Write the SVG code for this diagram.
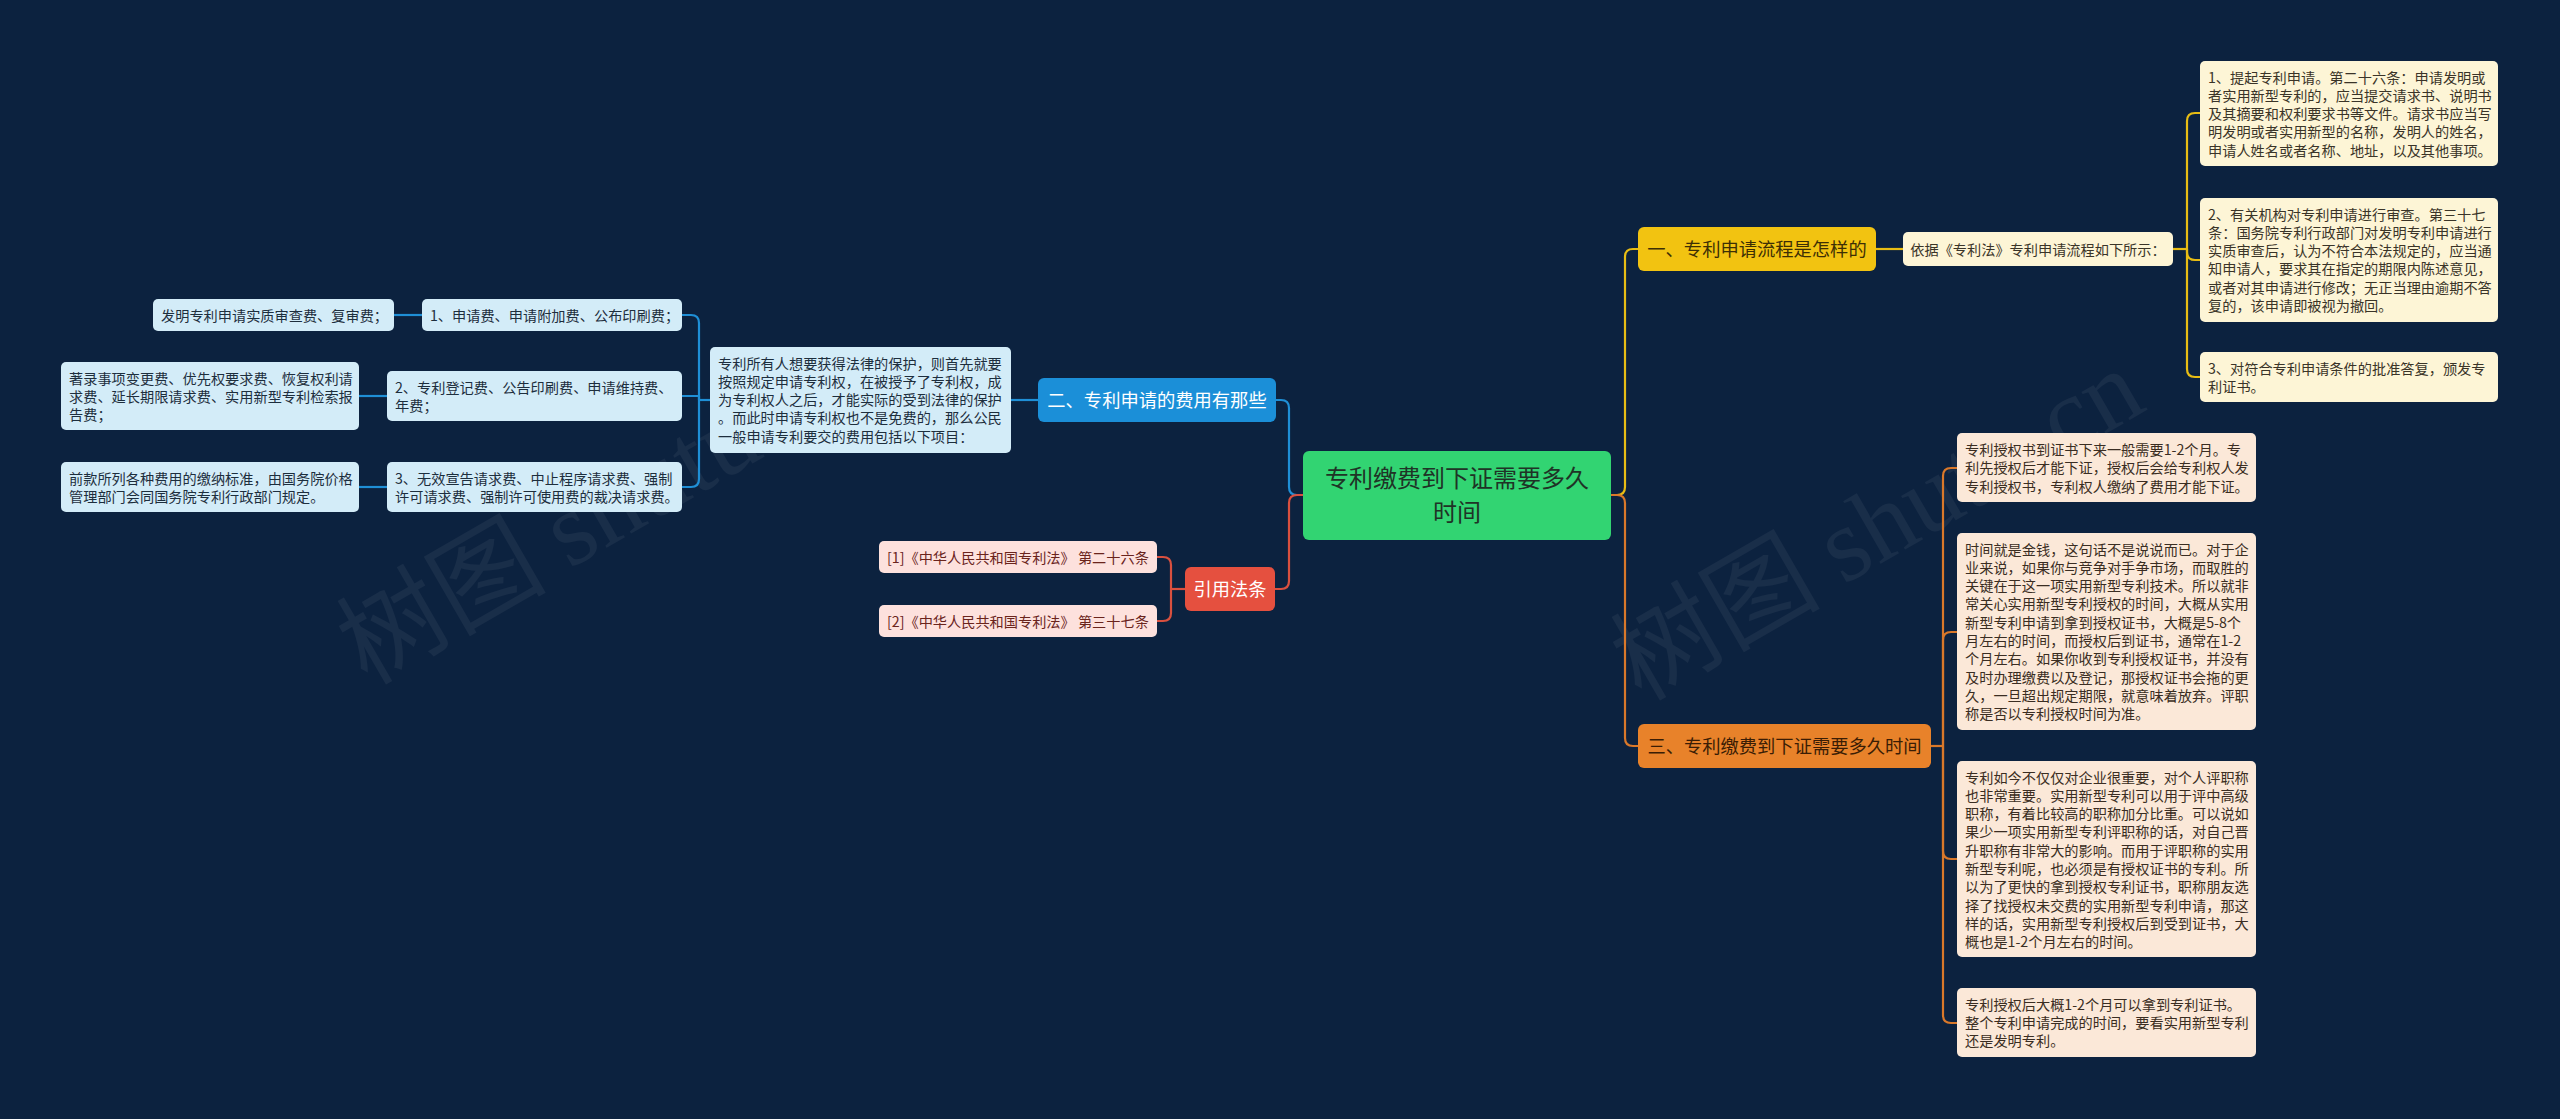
<svg xmlns="http://www.w3.org/2000/svg" width="2560" height="1119" viewBox="0 0 2560 1119">
<defs>
<style>
text{font-family:"Noto Sans CJK SC","Noto Sans",sans-serif;}
.s{font-size:14.2px;}
.l1{font-size:18.3px;}
.root{font-size:24px;fill:#1f3326;}
.cy{fill:#fdf5d6;}
.co{fill:#fbe8d8;}
.cb{fill:#d3ecf8;}
.cr{fill:#fde1dd;}
.ty{fill:#3a3428;}
.to{fill:#3a2d22;}
.tb{fill:#1d2e3d;}
.tr{fill:#6a241c;}
.ln{fill:none;stroke-width:2.2;stroke-linejoin:round;}
.ly{stroke:#e8bd14;}
.lo{stroke:#d9782a;}
.lb{stroke:#1f8fd6;}
.lr{stroke:#d9503f;}
.wm{fill:#ffffff;opacity:0.05;font-size:105px;}
</style>
</defs>
<rect x="0" y="0" width="2560" height="1119" fill="#0c223f"/>

<g id="watermarks">
<text class="wm" x="367" y="686" transform="rotate(-30 367 686)">树图 <tspan font-family="Liberation Serif, serif">shutu.cn</tspan></text>
<text class="wm" x="1641" y="702" transform="rotate(-30 1641 702)">树图 <tspan font-family="Liberation Serif, serif">shutu.cn</tspan></text>
</g>

<g id="connectors">
<!-- yellow branch -->
<path class="ln ly" d="M1611 495 H1617 Q1625 495 1625 487 V257 Q1625 249 1633 249 H1638"/>
<path class="ln ly" d="M1876 249 H1903"/>
<path class="ln ly" d="M2173 249 H2187"/>
<path class="ln ly" d="M2187 249 V121 Q2187 113 2195 113 H2200"/>
<path class="ln ly" d="M2187 249 V252 Q2187 260 2195 260 H2200"/>
<path class="ln ly" d="M2187 249 V369 Q2187 377 2195 377 H2200"/>
<!-- orange branch -->
<path class="ln lo" d="M1611 495 H1617 Q1625 495 1625 503 V738 Q1625 746 1633 746 H1638"/>
<path class="ln lo" d="M1931 746 H1943"/>
<path class="ln lo" d="M1943 746 V476 Q1943 468 1951 468 H1957"/>
<path class="ln lo" d="M1943 746 V640 Q1943 632 1951 632 H1957"/>
<path class="ln lo" d="M1943 746 V851 Q1943 859 1951 859 H1957"/>
<path class="ln lo" d="M1943 746 V1015 Q1943 1023 1951 1023 H1957"/>
<!-- blue branch -->
<path class="ln lb" d="M1303 495 H1297 Q1289 495 1289 487 V408 Q1289 400 1281 400 H1276"/>
<path class="ln lb" d="M1038 400 H1011"/>
<path class="ln lb" d="M710 400 H699"/>
<path class="ln lb" d="M699 400 V323 Q699 315 691 315 H682"/>
<path class="ln lb" d="M699 400 V396 H682"/>
<path class="ln lb" d="M699 400 V479 Q699 487 691 487 H682"/>
<path class="ln lb" d="M394 315 H422"/>
<path class="ln lb" d="M359 396 H387"/>
<path class="ln lb" d="M359 487 H387"/>
<!-- red branch -->
<path class="ln lr" d="M1303 495 H1297 Q1289 495 1289 503 V581 Q1289 589 1281 589 H1275"/>
<path class="ln lr" d="M1185 589 H1171"/>
<path class="ln lr" d="M1171 589 V565 Q1171 557 1163 557 H1157"/>
<path class="ln lr" d="M1171 589 V613 Q1171 621 1163 621 H1157"/>
</g>

<g id="root">
<rect x="1303" y="451" width="308" height="89" rx="6" fill="#32d472"/>
<text class="root" x="1457" y="487" text-anchor="middle">专利缴费到下证需要多久</text>
<text class="root" x="1457" y="521" text-anchor="middle">时间</text>
</g>

<g id="n-yi">
<rect x="1638" y="227" width="238" height="44" rx="6" fill="#f2c311"/>
<text class="l1" x="1757" y="256" text-anchor="middle" fill="#3d2f05">一、专利申请流程是怎样的</text>
</g>
<g id="n-yiju">
<rect class="cy" x="1903" y="232" width="270" height="34" rx="5"/>
<text class="s ty" x="2038" y="254.5" text-anchor="middle">依据《专利法》专利申请流程如下所示：</text>
</g>
<g id="n-y1">
<rect class="cy" x="2200" y="61" width="298" height="105" rx="5"/>
<text class="s ty"><tspan x="2208" y="82.5">1、提起专利申请。第二十六条：申请发明或</tspan><tspan x="2208" y="100.8">者实用新型专利的，应当提交请求书、说明书</tspan><tspan x="2208" y="119.1">及其摘要和权利要求书等文件。请求书应当写</tspan><tspan x="2208" y="137.4">明发明或者实用新型的名称，发明人的姓名，</tspan><tspan x="2208" y="155.7">申请人姓名或者名称、地址，以及其他事项。</tspan></text>
</g>
<g id="n-y2">
<rect class="cy" x="2200" y="198" width="298" height="124" rx="5"/>
<text class="s ty"><tspan x="2208" y="219.5">2、有关机构对专利申请进行审查。第三十七</tspan><tspan x="2208" y="237.8">条：国务院专利行政部门对发明专利申请进行</tspan><tspan x="2208" y="256.1">实质审查后，认为不符合本法规定的，应当通</tspan><tspan x="2208" y="274.4">知申请人，要求其在指定的期限内陈述意见，</tspan><tspan x="2208" y="292.7">或者对其申请进行修改；无正当理由逾期不答</tspan><tspan x="2208" y="311">复的，该申请即被视为撤回。</tspan></text>
</g>
<g id="n-y3">
<rect class="cy" x="2200" y="352" width="298" height="50" rx="5"/>
<text class="s ty"><tspan x="2208" y="373.5">3、对符合专利申请条件的批准答复，颁发专</tspan><tspan x="2208" y="391.8">利证书。</tspan></text>
</g>

<g id="n-san">
<rect x="1638" y="724" width="293" height="44" rx="6" fill="#e8822a"/>
<text class="l1" x="1784.5" y="753" text-anchor="middle" fill="#3a1d05">三、专利缴费到下证需要多久时间</text>
</g>
<g id="n-o1">
<rect class="co" x="1957" y="433" width="299" height="69" rx="5"/>
<text class="s to"><tspan x="1965" y="455">专利授权书到证书下来一般需要1-2个月。专</tspan><tspan x="1965" y="473.3">利先授权后才能下证，授权后会给专利权人发</tspan><tspan x="1965" y="491.6">专利授权书，专利权人缴纳了费用才能下证。</tspan></text>
</g>
<g id="n-o2">
<rect class="co" x="1957" y="533" width="299" height="197" rx="5"/>
<text class="s to"><tspan x="1965" y="554.5">时间就是金钱，这句话不是说说而已。对于企</tspan><tspan x="1965" y="572.8">业来说，如果你与竞争对手争市场，而取胜的</tspan><tspan x="1965" y="591.1">关键在于这一项实用新型专利技术。所以就非</tspan><tspan x="1965" y="609.4">常关心实用新型专利授权的时间，大概从实用</tspan><tspan x="1965" y="627.7">新型专利申请到拿到授权证书，大概是5-8个</tspan><tspan x="1965" y="646">月左右的时间，而授权后到证书，通常在1-2</tspan><tspan x="1965" y="664.3">个月左右。如果你收到专利授权证书，并没有</tspan><tspan x="1965" y="682.6">及时办理缴费以及登记，那授权证书会拖的更</tspan><tspan x="1965" y="700.9">久，一旦超出规定期限，就意味着放弃。评职</tspan><tspan x="1965" y="719.2">称是否以专利授权时间为准。</tspan></text>
</g>
<g id="n-o3">
<rect class="co" x="1957" y="761" width="299" height="196" rx="5"/>
<text class="s to"><tspan x="1965" y="782.5">专利如今不仅仅对企业很重要，对个人评职称</tspan><tspan x="1965" y="800.8">也非常重要。实用新型专利可以用于评中高级</tspan><tspan x="1965" y="819.1">职称，有着比较高的职称加分比重。可以说如</tspan><tspan x="1965" y="837.4">果少一项实用新型专利评职称的话，对自己晋</tspan><tspan x="1965" y="855.7">升职称有非常大的影响。而用于评职称的实用</tspan><tspan x="1965" y="874">新型专利呢，也必须是有授权证书的专利。所</tspan><tspan x="1965" y="892.3">以为了更快的拿到授权专利证书，职称朋友选</tspan><tspan x="1965" y="910.6">择了找授权未交费的实用新型专利申请，那这</tspan><tspan x="1965" y="928.9">样的话，实用新型专利授权后到受到证书，大</tspan><tspan x="1965" y="947.2">概也是1-2个月左右的时间。</tspan></text>
</g>
<g id="n-o4">
<rect class="co" x="1957" y="988" width="299" height="69" rx="5"/>
<text class="s to"><tspan x="1965" y="1009.5">专利授权后大概1-2个月可以拿到专利证书。</tspan><tspan x="1965" y="1027.8">整个专利申请完成的时间，要看实用新型专利</tspan><tspan x="1965" y="1046.1">还是发明专利。</tspan></text>
</g>

<g id="n-er">
<rect x="1038" y="378" width="238" height="44" rx="6" fill="#1b8fd8"/>
<text class="l1" x="1157" y="407" text-anchor="middle" fill="#ffffff">二、专利申请的费用有那些</text>
</g>
<g id="n-desc">
<rect class="cb" x="710" y="347" width="301" height="106" rx="5"/>
<text class="s tb"><tspan x="718" y="368.5">专利所有人想要获得法律的保护，则首先就要</tspan><tspan x="718" y="386.8">按照规定申请专利权，在被授予了专利权，成</tspan><tspan x="718" y="405.1">为专利权人之后，才能实际的受到法律的保护</tspan><tspan x="718" y="423.4">。而此时申请专利权也不是免费的，那么公民</tspan><tspan x="718" y="441.7">一般申请专利要交的费用包括以下项目：</tspan></text>
</g>
<g id="n-b1">
<rect class="cb" x="422" y="299" width="260" height="32" rx="5"/>
<text class="s tb" x="430" y="320.5">1、申请费、申请附加费、公布印刷费；</text>
</g>
<g id="n-b2">
<rect class="cb" x="387" y="371" width="295" height="50" rx="5"/>
<text class="s tb"><tspan x="395" y="392.5">2、专利登记费、公告印刷费、申请维持费、</tspan><tspan x="395" y="410.8">年费；</tspan></text>
</g>
<g id="n-b3">
<rect class="cb" x="387" y="462" width="295" height="50" rx="5"/>
<text class="s tb"><tspan x="395" y="483.5">3、无效宣告请求费、中止程序请求费、强制</tspan><tspan x="395" y="501.8">许可请求费、强制许可使用费的裁决请求费。</tspan></text>
</g>
<g id="n-b1a">
<rect class="cb" x="153" y="299" width="241" height="32" rx="5"/>
<text class="s tb" x="161" y="320.5">发明专利申请实质审查费、复审费；</text>
</g>
<g id="n-b2a">
<rect class="cb" x="61" y="362" width="298" height="68" rx="5"/>
<text class="s tb"><tspan x="69" y="383.5">著录事项变更费、优先权要求费、恢复权利请</tspan><tspan x="69" y="401.8">求费、延长期限请求费、实用新型专利检索报</tspan><tspan x="69" y="420.1">告费；</tspan></text>
</g>
<g id="n-b3a">
<rect class="cb" x="61" y="462" width="298" height="50" rx="5"/>
<text class="s tb"><tspan x="69" y="483.5">前款所列各种费用的缴纳标准，由国务院价格</tspan><tspan x="69" y="501.8">管理部门会同国务院专利行政部门规定。</tspan></text>
</g>

<g id="n-yin">
<rect x="1185" y="567" width="90" height="44" rx="6" fill="#e5503f"/>
<text class="l1" x="1230" y="596" text-anchor="middle" fill="#ffffff">引用法条</text>
</g>
<g id="n-r1">
<rect class="cr" x="879" y="541" width="278" height="32" rx="5"/>
<text class="s tr" x="887" y="562.5">[1]《中华人民共和国专利法》 第二十六条</text>
</g>
<g id="n-r2">
<rect class="cr" x="879" y="605" width="278" height="32" rx="5"/>
<text class="s tr" x="887" y="626.5">[2]《中华人民共和国专利法》 第三十七条</text>
</g>
</svg>
